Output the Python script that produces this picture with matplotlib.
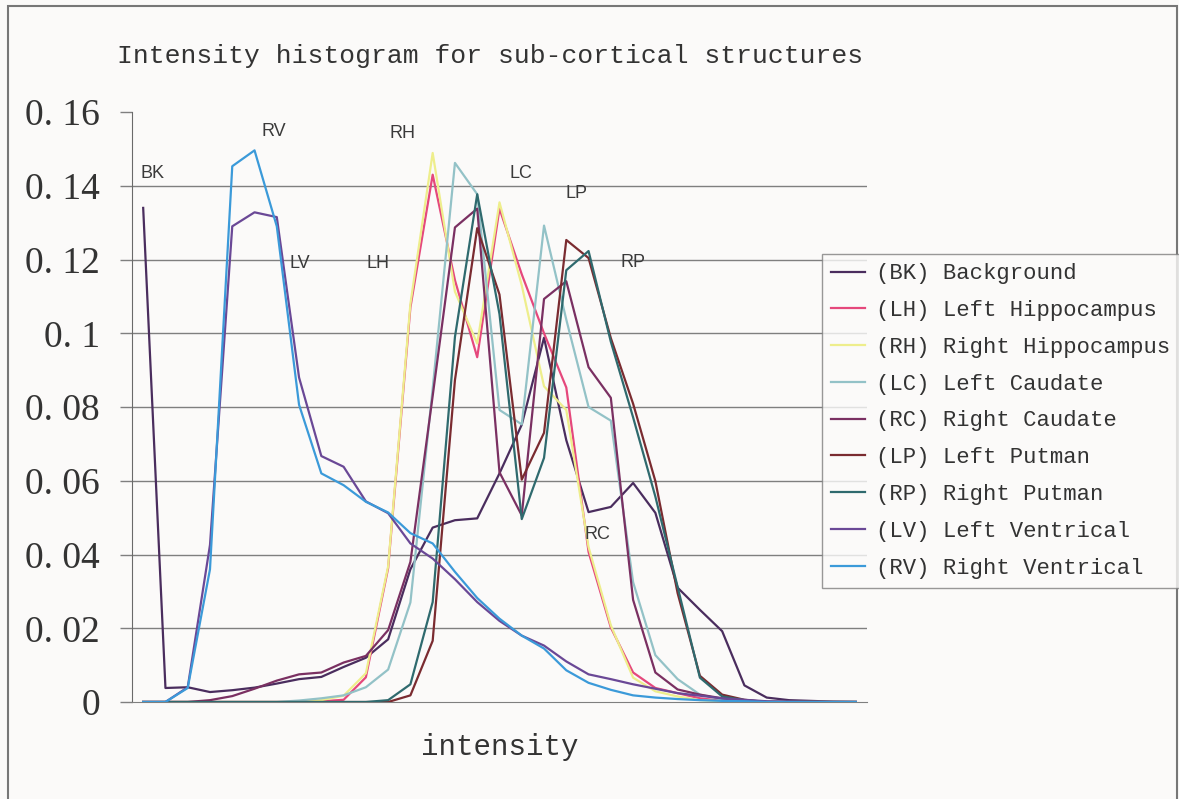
import numpy as np
import matplotlib
matplotlib.use("Agg")
import matplotlib.pyplot as plt
from matplotlib.patches import Rectangle

# histogram values, 33 intensity bins
bins = np.arange(33)

bk = [0.134, 0.0038, 0.0040, 0.0027, 0.0032, 0.0039, 0.0050, 0.0062, 0.0068, 0.0095,
      0.0120, 0.0170, 0.036, 0.0473, 0.0493, 0.0498, 0.062, 0.0752, 0.0988, 0.071,
      0.0515, 0.0529, 0.0594, 0.0513, 0.031, 0.025, 0.0192, 0.0045, 0.0012, 0.0005,
      0.0003, 0.0001, 0.0]
lh = [0, 0, 0, 0, 0, 0, 0, 0, 0.0002, 0.0006,
      0.0067, 0.0363, 0.107, 0.143, 0.1144, 0.0935, 0.1338, 0.116, 0.100, 0.0853,
      0.0407, 0.0202, 0.008, 0.0038, 0.0024, 0.001, 0.0003, 0.0001, 0, 0,
      0, 0, 0]
rh = [0, 0, 0, 0, 0, 0, 0, 0, 0.0005, 0.0017,
      0.0078, 0.0368, 0.108, 0.1489, 0.1113, 0.0972, 0.1355, 0.113, 0.0856, 0.0792,
      0.042, 0.0208, 0.0066, 0.0029, 0.0015, 0.0005, 0.0002, 0, 0, 0,
      0, 0, 0]
lc = [0, 0, 0, 0, 0, 0, 0, 0.0004, 0.001, 0.0018,
      0.004, 0.0088, 0.027, 0.085, 0.1462, 0.1377, 0.0792, 0.0753, 0.1292, 0.1037,
      0.080, 0.0763, 0.0325, 0.0127, 0.0062, 0.002, 0.0007, 0.0002, 0, 0,
      0, 0, 0]
rc = [0, 0, 0, 0.0005, 0.0016, 0.0036, 0.0058, 0.0075, 0.008, 0.0107,
      0.0125, 0.0195, 0.038, 0.083, 0.1287, 0.1338, 0.0623, 0.0506, 0.1093, 0.1141,
      0.0908, 0.0825, 0.0277, 0.008, 0.0034, 0.002, 0.001, 0.0003, 0, 0,
      0, 0, 0]
lp = [0, 0, 0, 0, 0, 0, 0, 0, 0, 0,
      0, 0, 0.0018, 0.0166, 0.0873, 0.1285, 0.1105, 0.0603, 0.073, 0.1253,
      0.1204, 0.0987, 0.0809, 0.0599, 0.0295, 0.0071, 0.002, 0.0006, 0, 0,
      0, 0, 0]
rp = [0, 0, 0, 0, 0, 0, 0, 0, 0, 0,
      0, 0.0005, 0.0048, 0.0271, 0.0990, 0.1377, 0.1052, 0.0496, 0.0662, 0.1171,
      0.1223, 0.0977, 0.0772, 0.0557, 0.0312, 0.0066, 0.0015, 0.0005, 0, 0,
      0, 0, 0]
lv = [0, 0, 0.004, 0.0426, 0.129, 0.1328, 0.1315, 0.088, 0.0667, 0.0638,
      0.0544, 0.0512, 0.043, 0.0389, 0.0333, 0.0271, 0.022, 0.018, 0.0153, 0.011,
      0.0075, 0.0062, 0.0048, 0.0036, 0.0024, 0.0017, 0.001, 0.0006, 0.0002, 0.0001,
      0, 0, 0]
rv = [0, 0, 0.0038, 0.036, 0.1453, 0.1496, 0.129, 0.0806, 0.062, 0.0588,
      0.0543, 0.0514, 0.0458, 0.043, 0.0353, 0.0282, 0.0226, 0.018, 0.0145, 0.0086,
      0.0052, 0.0033, 0.0018, 0.0012, 0.0008, 0.0005, 0.0003, 0.0002, 0, 0,
      0, 0, 0]

names = ["(BK) Background", "(LH) Left Hippocampus", "(RH) Right Hippocampus",
         "(LC) Left Caudate", "(RC) Right Caudate", "(LP) Left Putman",
         "(RP) Right Putman", "(LV) Left Ventrical", "(RV) Right Ventrical"]
series = [bk, lh, rh, lc, rc, lp, rp, lv, rv]
colors = ["#4a2d5e", "#e5487c", "#eeee8c", "#93c2c7", "#7a3062",
          "#7a2b30", "#2f6a6e", "#6a4896", "#3b9ad9"]

yticks = [0, 0.02, 0.04, 0.06, 0.08, 0.1, 0.12, 0.14, 0.16]
ytick_labels = ["0", "0. 02", "0. 04", "0. 06", "0. 08", "0. 1", "0. 12", "0. 14", "0. 16"]

# short tags written next to the curves (bin, value)
tags = {"BK": (0.44, 0.1432), "RV": (5.88, 0.1546), "RH": (11.63, 0.1543),
        "LC": (16.97, 0.1432), "LP": (19.44, 0.1378), "LV": (7.02, 0.1188),
        "LH": (10.55, 0.1188), "RP": (22.0, 0.1191), "RC": (20.38, 0.0453)}

bg = "#fbfaf9"
grey = "#7f7f7f"
mono = ["Liberation Mono", "DejaVu Sans Mono"]

fig = plt.figure(figsize=(11.79, 7.99), dpi=100, facecolor=bg)
ax = fig.add_axes([0.112, 0.1214, 0.6233, 0.7384], facecolor=bg)

# grid lines only between 0 and the top tick
ax.hlines(yticks[1:-1], -0.5, 32.5, colors=grey, lw=1, zorder=1)

for y, c, n in zip(series, colors, names):
    ax.plot(bins, y, color=c, lw=1.6, label=n, zorder=3)

for t, (x, y) in tags.items():
    ax.text(x, y, t, ha="center", va="center", fontsize=13,
            family="Liberation Sans", color="#3a3a3a")

ax.set_xlim(-0.5, 32.5)
ax.set_ylim(0, 0.16)
ax.set_xticks([])
ax.set_yticks(yticks)
ax.set_yticklabels(ytick_labels, family="Liberation Serif", fontsize=27, color="#333333")
ax.tick_params(axis="y", direction="out", length=9, width=1, color=grey, pad=14)
for s in ["top", "right"]:
    ax.spines[s].set_visible(False)
ax.spines["left"].set_color("#6a6a6a")
ax.spines["bottom"].set_color(grey)

ax.set_xlabel("intensity", family=mono, fontsize=21, color="#333333", labelpad=22)
fig.text(0.416, 0.93, "Intensity histogram for sub-cortical structures",
         ha="center", va="center", family=mono, fontsize=19, color="#333333")

leg = fig.legend(loc="upper left", bbox_to_anchor=(822 / 1179, 1 - 254 / 799),
                 prop={"family": mono, "size": 16}, frameon=True, fancybox=False,
                 handlelength=1.5, handletextpad=0.5, labelspacing=0.71,
                 borderpad=0.42, borderaxespad=0)
leg.get_frame().set_edgecolor(grey)
leg.get_frame().set_facecolor(bg)
leg.get_frame().set_linewidth(1)
for t in leg.get_texts():
    t.set_color("#333333")

# outer frame of the picture
fig.patches.append(Rectangle((8 / 1179, -0.01), 1169 / 1179, 1.01 - 6 / 799,
                             transform=fig.transFigure, fill=False,
                             edgecolor="#777777", lw=1.5))

fig.savefig("out.png", dpi=100, facecolor=bg)
